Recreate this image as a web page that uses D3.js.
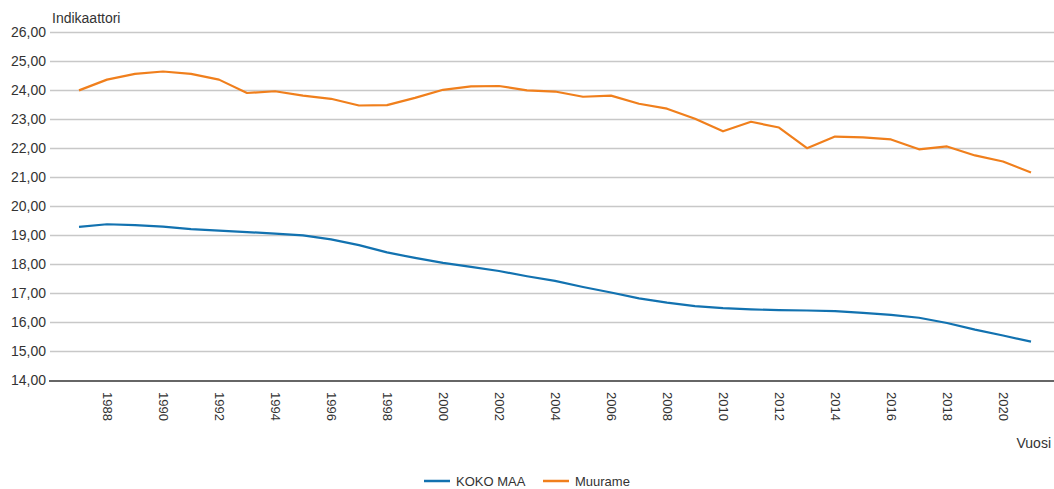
<!DOCTYPE html>
<html>
<head>
<meta charset="utf-8">
<script src="https://cdn.jsdelivr.net/npm/d3@7"></script>
<style>
  body { margin: 0; background: #fff; }
  svg text { font-family: "Liberation Sans", Arial, sans-serif; fill: #333; }
</style>
</head>
<body>
<div id="chart"></div>
<script>
const width = 1054;
const height = 489;

// vuodet 1987-2021
const years = d3.range(1987, 2022);
const yTicks = [14, 15, 16, 17, 18, 19, 20, 21, 22, 23, 24, 25, 26];
const xTicks = d3.range(1988, 2021, 2);

const kokoMaa = [19.29, 19.38, 19.35, 19.30, 19.21, 19.16, 19.11, 19.06, 19.00, 18.86,
    18.66, 18.41, 18.22, 18.05, 17.91, 17.77, 17.59, 17.43, 17.22, 17.03,
    16.83, 16.68, 16.56, 16.49, 16.45, 16.42, 16.41, 16.39, 16.33, 16.26,
    16.16, 15.98, 15.75, 15.55, 15.34];
const muurame = [23.99, 24.36, 24.56, 24.64, 24.56, 24.36, 23.90, 23.96, 23.81, 23.70,
    23.47, 23.48, 23.73, 24.01, 24.13, 24.14, 23.99, 23.95, 23.77, 23.81,
    23.53, 23.36, 23.01, 22.58, 22.91, 22.71, 22.00, 22.40, 22.37, 22.30,
    21.96, 22.06, 21.75, 21.54, 21.16];

const series = [
    {name: "KOKO MAA", values: kokoMaa, color: "#1272b0"},
    {name: "Muurame", values: muurame, color: "#f07f1c"}
];

const margin = {left: 50, top: 32, bottom: 109};

const x = d3.scaleLinear()
    .domain([1986, 2022])
    .range([51, 1059]);

const y = d3.scaleLinear()
    .domain([14, 26])
    .range([height - margin.bottom + 0.5, margin.top]);

const svg = d3.select("#chart").append("svg")
    .attr("width", width)
    .attr("height", height);

// vaakaviivat
svg.append("g").selectAll("line")
    .data(yTicks.filter(d => d !== 14))
    .enter().append("line")
    .attr("x1", margin.left)
    .attr("x2", width)
    .attr("y1", d => Math.round(y(d)) + 0.5)
    .attr("y2", d => Math.round(y(d)) + 0.5)
    .attr("stroke", "#c8c8c8")
    .attr("stroke-width", 1.5);

// y-akseli
const yAxis = svg.append("g")
    .attr("transform", `translate(${margin.left},0)`)
    .call(d3.axisLeft(y).tickValues(yTicks).tickSize(0).tickPadding(4)
        .tickFormat(d => d3.format(".2f")(d).replace(".", ",")));
yAxis.select(".domain").remove();
yAxis.selectAll("text")
    .attr("font-size", 14)
    .attr("fill", "#333");

// x-akseli
const xAxis = svg.append("g")
    .attr("transform", `translate(0,${Math.round(y(14))})`)
    .call(d3.axisBottom(x).tickValues(xTicks).tickSize(0).tickFormat(d3.format("d")));
xAxis.select(".domain").remove();
xAxis.append("line")
    .attr("x1", margin.left - 1)
    .attr("x2", width)
    .attr("stroke", "#666")
    .attr("stroke-width", 2);
xAxis.selectAll(".tick text")
    .attr("font-size", 13)
    .attr("fill", "#333")
    .attr("transform", "rotate(90)")
    .attr("x", 11)
    .attr("y", 0)
    .attr("dy", "0.35em")
    .style("text-anchor", "start");

// viivat
const line = d3.line()
    .x((d, i) => x(years[i]))
    .y(d => y(d));

svg.append("g").selectAll("path")
    .data(series)
    .enter().append("path")
    .attr("d", d => line(d.values))
    .attr("fill", "none")
    .attr("stroke", d => d.color)
    .attr("stroke-width", 2.2)
    .attr("stroke-linejoin", "round");

// otsikot
svg.append("text")
    .attr("x", 52)
    .attr("y", 23)
    .attr("font-size", 14)
    .text("Indikaattori");

svg.append("text")
    .attr("x", 1051)
    .attr("y", 448)
    .attr("font-size", 14)
    .style("text-anchor", "end")
    .text("Vuosi");

// selite
const legend = svg.append("g").selectAll("g")
    .data(series)
    .enter().append("g")
    .attr("transform", (d, i) => `translate(${424 + i * 119},481)`);

legend.append("line")
    .attr("x1", 0)
    .attr("x2", 26)
    .attr("stroke", d => d.color)
    .attr("stroke-width", 2.5);

legend.append("text")
    .attr("x", 32)
    .attr("dy", "0.35em")
    .attr("font-size", 13)
    .text(d => d.name);
</script>
</body>
</html>
